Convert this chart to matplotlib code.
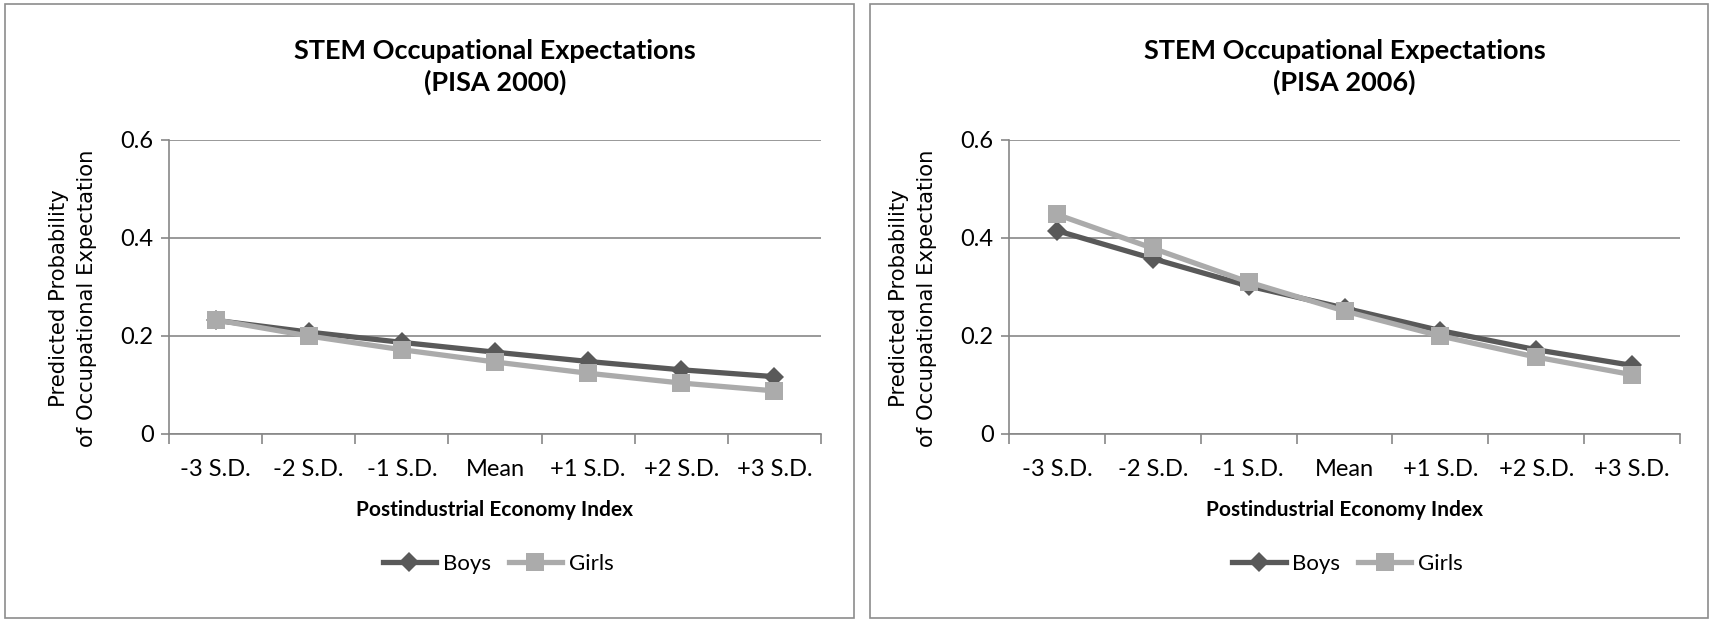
import matplotlib
matplotlib.use("Agg")
import matplotlib.pyplot as plt
from matplotlib.patches import Rectangle
from matplotlib.ticker import FixedLocator, NullFormatter

categories = ["-3 S.D.", "-2 S.D.", "-1 S.D.", "Mean", "+1 S.D.", "+2 S.D.", "+3 S.D."]
boys_2000 = [0.232, 0.208, 0.187, 0.167, 0.148, 0.131, 0.117]
girls_2000 = [0.233, 0.200, 0.172, 0.147, 0.124, 0.104, 0.088]
boys_2006 = [0.415, 0.358, 0.302, 0.257, 0.211, 0.172, 0.140]
girls_2006 = [0.448, 0.379, 0.310, 0.251, 0.200, 0.157, 0.121]
titles = ["STEM Occupational Expectations\n(PISA 2000)", "STEM Occupational Expectations\n(PISA 2006)"]
yticks = [0, 0.2, 0.4, 0.6]
ytick_labels = ["0", "0.2", "0.4", "0.6"]

W, H = 1711, 621
fig = plt.figure(figsize=(W / 100, H / 100), dpi=100)

TFONT = ["Lato", "DejaVu Sans"]
BOYS_C = "#595959"
GIRLS_C = "#ABABAB"
GRID_C = "#878787"

def fx(px):
    return px / W

def fy(py):
    return 1 - py / H

panels = [
    dict(box=(5, 4, 854, 618), ax=(169, 140, 821, 434), boys=boys_2000, girls=girls_2000, title=titles[0]),
    dict(box=(870, 4, 1708, 618), ax=(1009, 140, 1680, 434), boys=boys_2006, girls=girls_2006, title=titles[1]),
]

for p in panels:
    bx0, by0, bx1, by1 = p["box"]
    fig.patches.append(Rectangle((fx(bx0), fy(by1)), fx(bx1) - fx(bx0), fy(by0) - fy(by1),
                                 transform=fig.transFigure, fill=False, edgecolor="#8c8c8c", linewidth=1.2))
    x0, y0, x1, y1 = p["ax"]
    ax = fig.add_axes([fx(x0), fy(y1), fx(x1) - fx(x0), fy(y0) - fy(y1)])
    xs = list(range(len(categories)))
    ax.plot(xs, p["boys"], color=BOYS_C, linewidth=3.8, marker="D", markersize=10,
            markeredgewidth=0, label="Boys", zorder=3)
    ax.plot(xs, p["girls"], color=GIRLS_C, linewidth=3.8, marker="s", markersize=13.5,
            markeredgewidth=0, label="Girls", zorder=4)
    ax.set_xlim(-0.5, len(categories) - 0.5)
    ax.set_ylim(0, 0.6)
    ax.set_yticks(yticks)
    ax.set_yticklabels(ytick_labels, fontsize=17, family=TFONT)
    ax.yaxis.grid(True, color=GRID_C, linewidth=1.2)
    ax.set_axisbelow(True)
    ax.xaxis.set_major_locator(FixedLocator([i - 0.5 for i in range(len(categories) + 1)]))
    ax.xaxis.set_major_formatter(NullFormatter())
    ax.xaxis.set_minor_locator(FixedLocator(xs))
    ax.set_xticklabels(categories, minor=True, fontsize=17, family=TFONT)
    ax.tick_params(axis="x", which="major", length=7, width=1.2, color=GRID_C, direction="out")
    ax.tick_params(axis="x", which="minor", length=0, pad=18)
    ax.tick_params(axis="y", which="major", length=6, width=1.2, color=GRID_C, pad=5)
    for s in ["top", "right"]:
        ax.spines[s].set_visible(False)
    for s in ["left", "bottom"]:
        ax.spines[s].set_color(GRID_C)
        ax.spines[s].set_linewidth(1.2)
    fig.text(fx(x0 - 96), fy(298), "Predicted Probability\nof Occupational Expectation",
             rotation=90, ha="center", va="center", fontsize=15.2, family="DejaVu Sans",
             linespacing=1.45)
    cx = (x0 + x1) / 2
    fig.text(fx(cx), fy(510), "Postindustrial Economy Index", ha="center", va="center",
             fontsize=15, fontweight="bold", family=TFONT)
    fig.text(fx(cx), fy(67), p["title"], ha="center", va="center", fontsize=19.5,
             fontweight="bold", family=TFONT, linespacing=1.35)
    ax.legend(loc="center", bbox_to_anchor=(fx(cx + 3), fy(564)), bbox_transform=fig.transFigure,
              ncol=2, frameon=False, prop=dict(family=TFONT, size=16), handlelength=2.4,
              columnspacing=0.8, handletextpad=0.3)

fig.savefig("out.png", dpi=100)
